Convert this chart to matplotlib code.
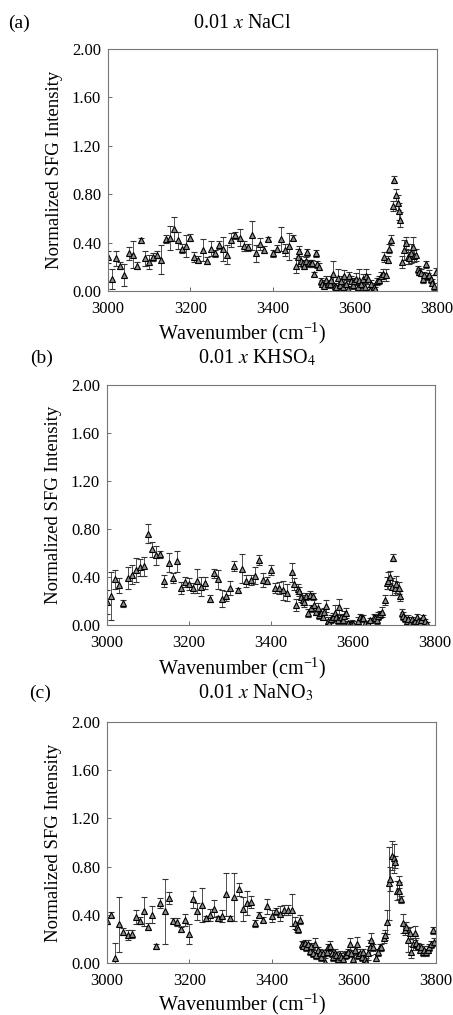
import numpy as np
import matplotlib
matplotlib.use("Agg")
from matplotlib import pyplot as plt

plt.rcParams['font.family'] = ['Liberation Serif', 'DejaVu Serif']
plt.rcParams['mathtext.fontset'] = 'stix'

# coarse grid 3000..3450 (every 10 cm-1) shared by all panels
wn_coarse = list(range(3000, 3451, 10))

# (a) 0.01 x NaCl
wn_a = wn_coarse + [3457, 3461, 3465, 3469, 3473, 3477, 3482, 3485, 3489, 3493, 3497, 3500,
                    3505, 3509, 3513, 3517, 3521, 3526, 3530, 3534, 3539, 3543, 3547,
                    3551, 3555, 3559, 3563, 3567, 3571, 3575, 3579, 3583, 3587, 3591, 3595, 3599,
                    3603, 3607, 3611, 3615, 3620, 3624, 3628, 3632, 3636, 3640, 3646, 3650,
                    3655, 3660, 3664, 3668, 3672, 3676, 3680, 3684, 3688, 3692, 3696, 3700,
                    3704, 3708, 3711, 3716, 3720, 3724, 3729, 3733, 3737, 3741, 3745, 3749,
                    3753, 3757, 3761, 3765, 3769, 3773, 3777, 3781, 3785, 3789, 3793, 3797]
int_a = [.28, .10, .27, .21, .13, .31, .30, .21, .42, .27,
         .24, .28, .30, .26, .43, .44, .51, .42, .35, .37,
         .44, .28, .26, .34, .25, .35, .31, .38, .35, .30,
         .42, .46, .44, .37, .36, .46, .31, .39, .34, .43,
         .31, .35, .43, .34, .37, .44,
         .21, .28, .33, .25, .23, .21, .25, .32, .23, .23, .23, .14,
         .31, .22, .20, .08, .06, .04, .09, .06, .055, .09, .14,
         .04, .03, .11, .05, .08, .03, .12, .06, .015, .12, .08, .05, .08,
         .10, .035, .09, .055, .10, .035, .12, .10, .01, .06, .035, .015,
         .08, .09, .12, .14, .28, .13, .26, .35, .42, .70, .92, .79,
         .73, .66, .59, .24, .34, .40, .28, .27, .31, .36, .29, .30,
         .18, .16, .15, .10, .13, .22, .12, .13, .10, .07, .04, .16]
err_a = [.05, .08, .06, .03, .09, .05, .11, .03, .02, .06,
         .06, .03, .03, .12, .03, .10, .10, .07, .04, .09,
         .03, .04, .03, .09, .03, .06, .03, .03, .10, .08,
         .06, .03, .07, .04, .03, .12, .07, .05, .03, .02,
         .03, .03, .10, .05, .11, .02,
         .06, .07, .04, .04, .03, .03, .03, .03, .03, .03, .03, .02,
         .03, .03, .03, .03, .03, .02, .03, .03, .03, .03, .11,
         .03, .02, .07, .03, .04, .03, .05, .03, .02, .04, .04, .03, .03,
         .05, .03, .09, .03, .04, .03, .06, .04, .02, .03, .03, .02,
         .03, .03, .04, .04, .04, .05, .03, .04, .04, .04, .03, .05,
         .06, .07, .06, .05, .08, .05, .06, .05, .08, .09, .05, .05,
         .03, .03, .03, .03, .03, .03, .03, .04, .03, .03, .03, .03]

# (b) 0.01 x KHSO4
wn_b = wn_coarse + [3457, 3461, 3465, 3469, 3473, 3477, 3481, 3485, 3490, 3494,
                    3498, 3502, 3506, 3510, 3514, 3518, 3522, 3526, 3530, 3534,
                    3538, 3542, 3546, 3550, 3555, 3559, 3563, 3567, 3571, 3575,
                    3579, 3583, 3587, 3593, 3597, 3601, 3613, 3617, 3621, 3625,
                    3629, 3633, 3637, 3641, 3650, 3654, 3658, 3662, 3666, 3671,
                    3678, 3682, 3686, 3690, 3694, 3698, 3702, 3706, 3711, 3715,
                    3719, 3723, 3727, 3731, 3735, 3739, 3743, 3747, 3751, 3755,
                    3759, 3763, 3767, 3771, 3775, 3781]
int_b = [.19, .24, .38, .33, .18, .39, .42, .46, .48, .49,
         .76, .63, .58, .59, .37, .52, .39, .53, .31, .36,
         .34, .31, .37, .32, .35, .22, .43, .38, .22, .24,
         .31, .49, .29, .47, .37, .375, .41, .54, .375, .37,
         .46, .31, .31, .29, .27, .44,
         .34, .17, .30, .28, .23, .21, .19, .24, .10, .25,
         .14, .24, .17, .11, .14, .08, .10, .07, .11, .16,
         .035, .015, .05, .07, .10, .065, .04, .15, .065, .04,
         .075, .10, .015, .01, .02, .01, .035, .065, .055, .055,
         .015, .0, .015, .04, .065, .055, .04, .075, .09, .11,
         .21, .35, .37, .40, .32, .56, .31, .34, .31, .24,
         .10, .075, .055, .035, .05, .02, .05, .015, .03, .07,
         .035, .015, .04, .065, .03, .005]
err_b = [.10, .20, .08, .06, .03, .09, .08, .10, .07, .08,
         .08, .06, .08, .03, .05, .08, .04, .09, .05, .04,
         .05, .04, .10, .08, .05, .03, .04, .08, .07, .04,
         .06, .04, .02, .12, .05, .04, .07, .04, .06, .03,
         .04, .04, .05, .08, .07, .08,
         .05, .05, .04, .04, .04, .04, .04, .03, .03, .03,
         .03, .03, .05, .03, .04, .03, .03, .03, .03, .05,
         .03, .02, .03, .03, .07, .03, .03, .07, .03, .03,
         .04, .04, .02, .02, .02, .02, .03, .03, .03, .03,
         .02, .02, .02, .02, .03, .03, .03, .03, .03, .04,
         .04, .05, .07, .05, .07, .03, .06, .07, .05, .04,
         .03, .03, .03, .03, .03, .02, .02, .02, .02, .02,
         .02, .02, .02, .02, .02, .02]

# (c) 0.01 x NaNO3
wn_c = wn_coarse + [3457, 3461, 3465, 3469, 3473, 3477, 3481, 3485, 3489, 3493,
                    3497, 3501, 3505, 3509, 3513, 3517, 3521, 3525, 3530, 3534,
                    3538, 3542, 3546, 3550, 3554, 3558, 3562, 3566, 3570, 3574,
                    3578, 3582, 3586, 3590, 3594, 3598, 3602, 3607, 3611, 3615,
                    3619, 3623, 3627, 3631, 3635, 3639, 3643, 3647, 3653, 3659,
                    3663, 3667, 3673, 3677, 3681, 3685, 3689, 3693, 3697, 3701,
                    3705, 3709, 3711, 3716, 3720, 3724, 3728, 3732, 3736, 3740,
                    3744, 3748, 3752, 3756, 3760, 3764, 3768, 3772, 3776, 3780,
                    3784, 3788, 3792, 3796]
int_c = [.35, .40, .045, .32, .26, .23, .24, .38, .35, .43,
         .30, .40, .14, .50, .43, .54, .35, .34, .28, .36,
         .24, .53, .43, .48, .37, .40, .45, .37, .39, .57,
         .37, .55, .61, .45, .50, .51, .33, .40, .36, .47,
         .39, .43, .41, .44, .44, .44,
         .33, .30, .285, .36, .155, .145, .165, .13, .16, .10,
         .14, .08, .155, .065, .105, .085, .05, .08, .01, .09,
         .13, .145, .08, .05, .085, .065, .035, .07, .05, .03,
         .065, .07, .09, .155, .08, .035, .105, .155, .065, .085,
         .05, .09, .035, .01, .085, .13, .19, .13, .045, .09,
         .13, .13, .21, .23, .34, .66, .70, .89, .87, .84,
         .60, .67, .60, .53, .33, .27, .30, .19, .25, .09,
         .155, .25, .165, .14, .11, .13, .09, .11, .09, .11,
         .13, .155, .27, .175]
err_c = [.03, .02, .12, .23, .03, .04, .03, .06, .03, .12,
         .03, .07, .02, .04, .27, .05, .02, .03, .02, .05,
         .08, .07, .07, .14, .02, .05, .07, .02, .05, .18,
         .02, .20, .05, .10, .10, .05, .03, .02, .02, .06,
         .05, .03, .06, .04, .04, .13,
         .05, .04, .04, .04, .03, .03, .03, .03, .03, .03,
         .03, .03, .05, .03, .03, .03, .03, .03, .03, .03,
         .03, .04, .03, .03, .03, .03, .03, .03, .03, .03,
         .03, .03, .03, .05, .03, .03, .03, .06, .03, .03,
         .03, .03, .03, .03, .06, .06, .06, .03, .03, .03,
         .03, .03, .04, .04, .10, .30, .10, .12, .12, .05,
         .08, .05, .07, .03, .08, .04, .04, .10, .05, .05,
         .05, .06, .04, .03, .03, .03, .03, .03, .03, .03,
         .03, .03, .03, .03]

panel_tags = ['(a)', '(b)', '(c)']
titles = [r'0.01 $\mathit{x}$ NaCl', r'0.01 $\mathit{x}$ KHSO$_4$', r'0.01 $\mathit{x}$ NaNO$_3$']
series = [(wn_a, int_a, err_a), (wn_b, int_b, err_b), (wn_c, int_c, err_c)]

W, H = 453, 1015
fig = plt.figure(figsize=(W / 100, H / 100), dpi=100)

# axes boxes in pixels: left, top, right, bottom
boxes = [(108, 49, 437, 291), (107, 385, 435, 625), (107, 722, 436, 963)]
tag_pos = [(19, 23), (42, 358), (40, 693)]
title_pos = [(242, 23), (257, 358), (256, 693)]
xlab_y = [333, 668, 1004]

for i, (x, y, e) in enumerate(series):
    l, t, r, b = boxes[i]
    ax = fig.add_axes([l / W, 1 - b / H, (r - l) / W, (b - t) / H])
    ax.errorbar(x, y, yerr=e, fmt='^', ms=4.2, mfc='#8c8c8c', mec='k', mew=0.8,
                ecolor='#333333', elinewidth=0.6, capsize=2.5, capthick=0.6)
    ax.set_xlim(3000, 3800)
    ax.set_ylim(0, 2.0)
    ax.set_xticks(np.arange(3000, 3801, 200))
    ax.set_yticks(np.arange(0, 2.01, 0.4))
    ax.yaxis.set_major_formatter(matplotlib.ticker.FormatStrFormatter('%.2f'))
    ax.tick_params(direction='in', length=3, width=0.6, color='#555555', labelsize=12)
    ax.tick_params(axis='x', pad=7)
    ax.tick_params(axis='y', pad=5)
    for sp in ax.spines.values():
        sp.set_color('#777777')
        sp.set_linewidth(0.8)
    ax.set_ylabel('Normalized SFG Intensity', fontsize=13.5, labelpad=6)
    fig.text(tag_pos[i][0] / W, 1 - tag_pos[i][1] / H, panel_tags[i],
             fontsize=14, ha='center', va='center')
    fig.text(title_pos[i][0] / W, 1 - title_pos[i][1] / H, titles[i],
             fontsize=14.5, ha='center', va='center')
    fig.text(242 / W, 1 - xlab_y[i] / H, r'Wavenumber (cm$^{\mathregular{-1}}$)',
             fontsize=14.5, ha='center', va='center')

fig.savefig('out.png', dpi=100)
